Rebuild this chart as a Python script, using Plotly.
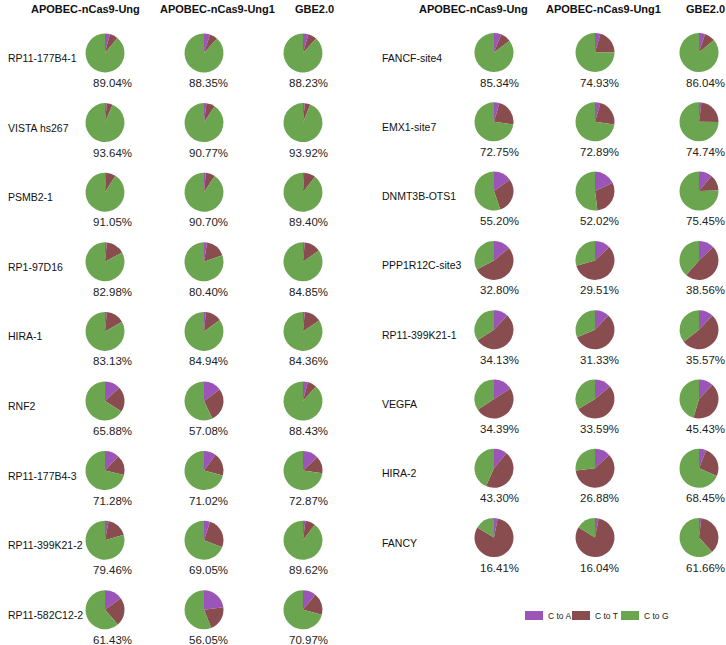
import plotly.graph_objects as go

# ---------------- data ----------------
methods = ["APOBEC-nCas9-Ung", "APOBEC-nCas9-Ung1", "GBE2.0"]
categories = ["C to A", "C to T", "C to G"]
colors = ["#9B55B8", "#8A4D4F", "#6BA550"]

sites_left = ["RP11-177B4-1", "VISTA hs267", "PSMB2-1", "RP1-97D16", "HIRA-1",
              "RNF2", "RP11-177B4-3", "RP11-399K21-2", "RP11-582C12-2"]
cg_left = [[89.04, 88.35, 88.23],
           [93.64, 90.77, 93.92],
           [91.05, 90.70, 89.40],
           [82.98, 80.40, 84.85],
           [83.13, 84.94, 84.36],
           [65.88, 57.08, 88.43],
           [71.28, 71.02, 72.87],
           [79.46, 69.05, 89.62],
           [61.43, 56.05, 70.97]]
ca_left = [[4.0, 5.0, 4.5],
           [1.5, 2.0, 1.5],
           [1.0, 1.5, 1.0],
           [1.5, 2.5, 1.5],
           [1.5, 1.5, 1.5],
           [13.0, 15.0, 4.0],
           [12.0, 10.0, 13.0],
           [3.0, 5.0, 2.0],
           [15.0, 23.0, 11.0]]
ct_left = [[6.96, 6.65, 7.27],
           [4.86, 7.23, 4.58],
           [7.95, 7.80, 9.60],
           [15.52, 17.10, 13.65],
           [15.37, 13.56, 14.14],
           [21.12, 27.92, 7.57],
           [16.72, 18.98, 14.13],
           [17.54, 25.95, 8.38],
           [23.57, 20.95, 18.03]]

sites_right = ["FANCF-site4", "EMX1-site7", "DNMT3B-OTS1", "PPP1R12C-site3",
               "RP11-399K21-1", "VEGFA", "HIRA-2", "FANCY"]
cg_right = [[85.34, 74.93, 86.04],
            [72.75, 72.89, 74.74],
            [55.20, 52.02, 75.45],
            [32.80, 29.51, 38.56],
            [34.13, 31.33, 35.57],
            [34.39, 33.59, 45.43],
            [43.30, 26.88, 68.45],
            [16.41, 16.04, 61.66]]
ca_right = [[6.0, 4.5, 5.0],
            [4.5, 4.5, 2.0],
            [15.0, 18.0, 11.0],
            [14.0, 13.0, 13.0],
            [12.0, 12.0, 12.0],
            [16.0, 14.0, 12.0],
            [11.0, 13.0, 6.0],
            [3.0, 3.0, 2.0]]
ct_right = [[8.66, 20.57, 8.96],
            [22.75, 22.61, 23.26],
            [29.80, 29.98, 13.55],
            [53.20, 57.49, 48.44],
            [53.87, 56.67, 52.43],
            [49.61, 52.41, 42.57],
            [45.70, 60.12, 25.55],
            [80.59, 80.96, 36.34]]

# ---------------- layout constants (pixels) ----------------
W, H = 726, 645
R = 19.5
FONT = "Arial, Liberation Sans, sans-serif"

panels = [
    dict(sites=sites_left, cg=cg_left, ca=ca_left, ct=ct_left,
         col_x=[105, 204, 303], head_x=[85, 217, 314], label_x=6,
         y0=53, dy=69.6, pct_dx=[7, 4, 5]),
    dict(sites=sites_right, cg=cg_right, ca=ca_right, ct=ct_right,
         col_x=[494, 595, 699], head_x=[473, 603, 705], label_x=380,
         y0=52.5, dy=69.3, pct_dx=[5.5, 4.5, 6]),
]

def px(x):
    return x / W

def py(y):
    return 1 - y / H

fig = go.Figure()
annotations = []

for p in panels:
    for j, m in enumerate(methods):
        annotations.append(dict(x=px(p["head_x"][j]), y=py(9), xref="paper", yref="paper",
                                text="<b>" + m + "</b>", showarrow=False,
                                xanchor="center", yanchor="middle",
                                font=dict(family=FONT, size=11, color="#111")))
    for i, site in enumerate(p["sites"]):
        cy = p["y0"] + i * p["dy"]
        annotations.append(dict(x=px(p["label_x"]), y=py(cy + 5), xref="paper", yref="paper",
                                text=site, showarrow=False, xanchor="left", yanchor="middle",
                                font=dict(family=FONT, size=10.5, color="#111")))
        for j in range(3):
            cx = p["col_x"][j]
            vals = [p["ca"][i][j], p["ct"][i][j], p["cg"][i][j]]
            fig.add_trace(go.Pie(
                labels=categories, values=vals, sort=False, direction="clockwise",
                rotation=0, textinfo="none", hoverinfo="label+percent",
                marker=dict(colors=colors, line=dict(width=0)),
                domain=dict(x=[px(cx - R), px(cx + R)], y=[py(cy + R), py(cy - R)]),
                showlegend=False,
            ))
            annotations.append(dict(x=px(cx + p["pct_dx"][j]), y=py(cy + 30),
                                    xref="paper", yref="paper",
                                    text=f"{p['cg'][i][j]:.2f}%", showarrow=False,
                                    xanchor="center", yanchor="middle",
                                    font=dict(family=FONT, size=11.5, color="#222")))

# manual legend
shapes = []
leg_box_x = [525, 572, 621]
for k, cat in enumerate(categories):
    x0 = leg_box_x[k]
    shapes.append(dict(type="rect", xref="paper", yref="paper",
                       x0=px(x0), x1=px(x0 + 18), y0=py(620), y1=py(611),
                       fillcolor=colors[k], line=dict(width=0)))
    annotations.append(dict(x=px(x0 + 20.5), y=py(615.5), xref="paper", yref="paper",
                            text=cat, showarrow=False, xanchor="left", yanchor="middle",
                            font=dict(family=FONT, size=8.5, color="#222")))

fig.update_layout(width=W, height=H, margin=dict(l=0, r=0, t=0, b=0),
                  paper_bgcolor="white", plot_bgcolor="white",
                  annotations=annotations, shapes=shapes, showlegend=False)

fig.write_html("out.html",
               config={"displayModeBar": False},
               post_script="document.body.style.margin='0px';"
                           "document.body.style.padding='0px';"
                           "document.body.style.overflow='hidden';")
